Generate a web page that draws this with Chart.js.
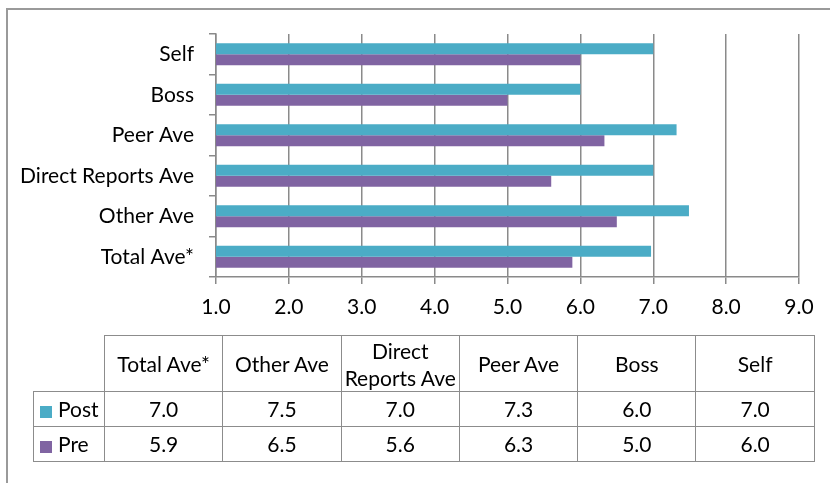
<!DOCTYPE html>
<html>
<head>
<meta charset="utf-8">
<script src="https://cdn.jsdelivr.net/npm/chart.js@4/dist/chart.umd.min.js"></script>
<style>
  html,body{margin:0;padding:0;background:#fff;}
  body{width:830px;height:483px;position:relative;overflow:hidden;font-family:Lato,"Open Sans",sans-serif;}
  #frame{position:absolute;left:6px;top:8px;width:2000px;height:2000px;border-left:2px solid #9a9a9a;border-top:2px solid #9a9a9a;}
  #wrap{position:absolute;left:0;top:0;width:830px;height:483px;}
  #dataTable{position:absolute;left:33px;top:335px;border-collapse:collapse;font-size:21px;color:#000;}
  #dataTable td{border:1px solid #8c8c8c;text-align:center;padding:0;line-height:22px;}
  #dataTable td.hdr2{line-height:27px;}
  #dataTable td.blank{border:none;}
  #dataTable td.key{text-align:left;padding-left:6px;}
  .sw{display:inline-block;width:12px;height:12px;margin-right:6px;vertical-align:-1px;}
</style>
</head>
<body>
<div id="frame"></div>
<div id="wrap"><canvas id="c" width="830" height="483"></canvas></div>
<table id="dataTable"></table>
<script>
// categories listed bottom-to-top, same order as the table columns
const categories = ['Total Ave*','Other Ave','Direct Reports Ave','Peer Ave','Boss','Self'];
const postValues = [6.97, 7.49, 7.0, 7.32, 6.0, 7.0];
const preValues  = [5.89, 6.5, 5.6, 6.33, 5.0, 6.0];
const xTicks = [1,2,3,4,5,6,7,8,9];

const POST_COLOR = '#4bacc6', PRE_COLOR = '#8064a2', LINE = '#8a8a8a';
const FONT = {family:'Lato', size:21};

new Chart(document.getElementById('c'), {
  type:'bar',
  data:{
    labels:categories,
    datasets:[
      {label:'Post', data:postValues, backgroundColor:POST_COLOR, categoryPercentage:0.545, barPercentage:1},
      {label:'Pre', data:preValues, backgroundColor:PRE_COLOR, categoryPercentage:0.545, barPercentage:1}
    ]
  },
  options:{
    indexAxis:'y', responsive:false, animation:false,
    layout:{padding:{top:34, right:31, left:0, bottom:0}},
    plugins:{legend:{display:false}, tooltip:{enabled:false}},
    scales:{
      x:{
        min:xTicks[0], max:xTicks[xTicks.length-1],
        afterBuildTicks:s=>{ s.ticks = xTicks.map(v=>({value:v})) },
        ticks:{color:'#000', font:FONT, padding:11, callback:v=>Number(v).toFixed(1)},
        grid:{color:LINE, lineWidth:1.5, tickLength:7},
        border:{color:LINE, width:1.5},
        afterFit:s=>{ s.height = 483-277 }
      },
      y:{
        reverse:true,
        ticks:{color:'#000', font:FONT, padding:15},
        grid:{drawOnChartArea:false, color:LINE, lineWidth:1.5, tickLength:7, offset:true},
        border:{color:LINE, width:1.5},
        afterFit:s=>{ s.width = 216 }
      }
    }
  }
});

// data table under the chart
function buildTable(){
  const t = document.getElementById('dataTable');
  const widths = [71].concat(categories.map(()=>118.3));
  let html = '<colgroup>' + widths.map(w=>`<col style="width:${w}px">`).join('') + '</colgroup>';
  html += '<tr style="height:56px"><td class="blank"></td>' + categories.map(c=>{
    if(c==='Direct Reports Ave') return '<td class="hdr2">Direct<br>Reports Ave</td>';
    return `<td>${c}</td>`;
  }).join('') + '</tr>';
  [['Post',postValues,POST_COLOR],['Pre',preValues,PRE_COLOR]].forEach(([name,vals,col])=>{
    html += `<tr style="height:35px"><td class="key"><span class="sw" style="background:${col}"></span>${name}</td>` +
      vals.map(v=>`<td>${v.toFixed(1)}</td>`).join('') + '</tr>';
  });
  t.innerHTML = html;
  t.style.tableLayout = 'fixed';
  t.style.width = widths.reduce((a,b)=>a+b,0) + 'px';
}
buildTable();
</script>
</body>
</html>
